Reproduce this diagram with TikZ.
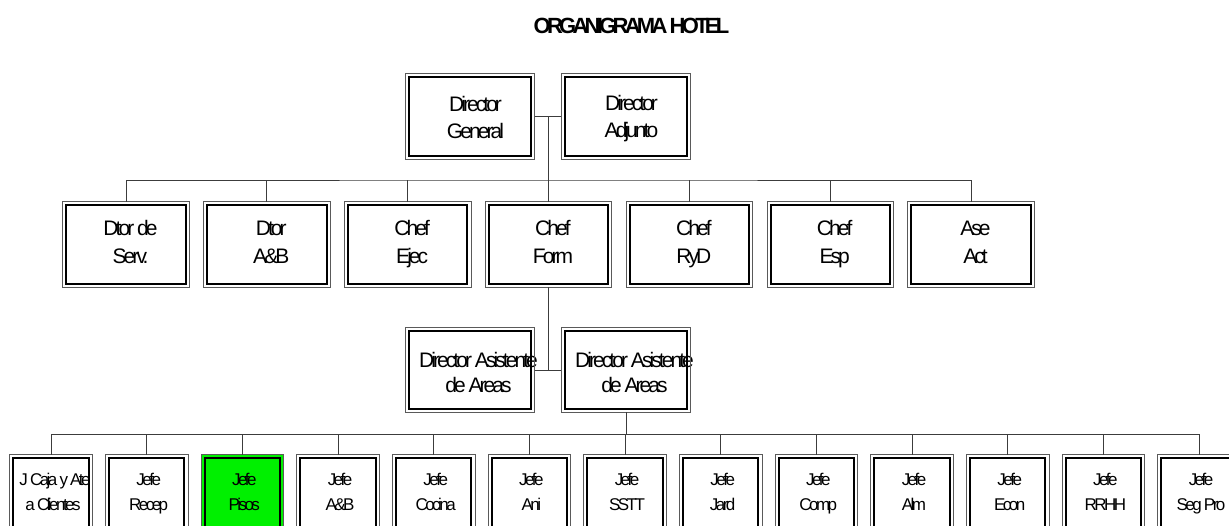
\documentclass[tikz,border=0pt]{standalone}
\usepackage{fontspec}
\setmainfont{Liberation Sans}
\newfontfamily\boxfont[LetterSpace=-14]{Liberation Sans}
\newfontfamily\smallboxfont[LetterSpace=-15]{Liberation Sans}
\newfontfamily\titlefont[LetterSpace=-17]{Liberation Sans}
\usetikzlibrary{calc}

\definecolor{linkgray}{RGB}{60,60,60}
\definecolor{framegray}{RGB}{90,90,90}
\definecolor{hilite}{RGB}{0,240,0}

% one line of a label, centred a little to the right of the box centre
\newcommand\offline[1]{\makebox[0pt][c]{\hspace*{\tlX}#1}}
% two-line label with fixed top and bottom struts
\newcommand\twoline[2]{\rule{0pt}{\tlH}\offline{#1}\\\offline{#2}\rule[-\tlD]{0pt}{0pt}}

% thin outer frame plus a heavy inner frame
\newcommand\dblframe[1]{%
  \draw[outerline] (#1.north west) rectangle (#1.south east);
  \draw[innerline] ([xshift=3.5pt,yshift=-3.5pt]#1.north west)
    rectangle ([xshift=-3.5pt,yshift=3.5pt]#1.south east);}

\tikzset{
  outerline/.style={draw=framegray, line width=0.8pt},
  innerline/.style={draw=black, line width=2pt},
  link/.style={draw=linkgray, line width=0.9pt},
  box/.style={inner sep=0pt, align=center},
  bigbox/.style={box, font=\boxfont\fontsize{21}{27}\selectfont,
    minimum height=85pt},
  rowA/.style={bigbox, minimum width=129pt,
    execute at begin node={\def\tlH{20pt}\def\tlD{3.5pt}\def\tlX{11pt}}},
  rowB/.style={bigbox, minimum width=126pt, font=\boxfont\fontsize{21}{28}\selectfont,
    execute at begin node={\def\tlH{15.5pt}\def\tlD{6.5pt}\def\tlX{9pt}}},
  rowC/.style={bigbox, minimum width=129pt, minimum height=84pt,
    font=\boxfont\fontsize{21}{25}\selectfont,
    execute at begin node={\def\tlH{22pt}\def\tlD{3pt}\def\tlX{17pt}}},
  rowD/.style={box, minimum width=82pt, minimum height=85pt,
    font=\smallboxfont\fontsize{17}{25}\selectfont,
    execute at begin node={\def\tlH{12pt}\def\tlD{12pt}\def\tlX{4pt}}},
}

\begin{document}
\begin{tikzpicture}[x=1pt,y=-1pt]
\useasboundingbox (0,0) rectangle (1229,525);
\clip (0,0) rectangle (1229,525);

\node[anchor=base, font=\titlefont\bfseries\fontsize{22}{26}\selectfont]
  (title) at (631.5,33) {ORGANIGRAMA HOTEL};

% top management
\node[rowA] (dg) at (470,116.5) {\twoline{Director}{General}};
\node[rowA] (da) at (626,116.5) {\twoline{Director}{Adjunto}};

% department heads
\node[rowB] (r2a) at (126.0,244.5) {\twoline{Dtor de}{Serv.}};
\node[rowB] (r2b) at (266.8,244.5) {\twoline{Dtor}{A\&B}};
\node[rowB] (r2c) at (407.7,244.5) {\twoline{Chef}{Ejec}};
\node[rowB] (r2d) at (548.5,244.5) {\twoline{Chef}{Form}};
\node[rowB] (r2e) at (689.3,244.5) {\twoline{Chef}{RyD}};
\node[rowB] (r2f) at (830.2,244.5) {\twoline{Chef}{Esp}};
\node[rowB] (r2g) at (971.0,244.5) {\twoline{Ase}{Act}};

% assistant directors
\node[rowC] (as1) at (470,370) {\twoline{Director Asistente}{de Areas}};
\node[rowC] (as2) at (626,370) {\twoline{Director Asistente}{de Areas}};

% section heads
\node[rowD] (r4a) at (51.0,497.5)   {\def\tlX{8pt}\twoline{J Caja y Ate}{a Clientes}};
\node[rowD] (r4b) at (146.7,497.5)  {\twoline{Jefe}{Recep}};
\node[rowD, fill=hilite] (r4c) at (242.3,497.5) {\twoline{Jefe}{Pisos}};
\node[rowD] (r4d) at (338.0,497.5)  {\twoline{Jefe}{A\&B}};
\node[rowD] (r4e) at (433.7,497.5)  {\twoline{Jefe}{Cocina}};
\node[rowD] (r4f) at (529.3,497.5)  {\twoline{Jefe}{Ani}};
\node[rowD] (r4g) at (625.0,497.5)  {\twoline{Jefe}{SSTT}};
\node[rowD] (r4h) at (720.7,497.5)  {\twoline{Jefe}{Jard}};
\node[rowD] (r4i) at (816.3,497.5)  {\twoline{Jefe}{Comp}};
\node[rowD] (r4j) at (912.0,497.5)  {\twoline{Jefe}{Alm}};
\node[rowD] (r4k) at (1007.7,497.5) {\twoline{Jefe}{Econ}};
\node[rowD] (r4l) at (1103.3,497.5) {\twoline{Jefe}{RRHH}};
\node[rowD] (r4m) at (1199.0,497.5) {\twoline{Jefe}{Seg Pro}};

% frames
\foreach \n in {dg,da,r2a,r2b,r2c,r2d,r2e,r2f,r2g,as1,as2,
                r4a,r4b,r4c,r4d,r4e,r4f,r4g,r4h,r4i,r4j,r4k,r4l,r4m}
  {\dblframe{\n}}

% connectors: top pair to department bus
\coordinate (j1) at ($(dg.east)!0.5!(da.west)$);
\path (j1) ++(0,63.5) coordinate (b2);
\draw[link] (dg.east) -- (da.west);
\draw[link] (j1) -- (b2);
\draw[link] (r2a.north) |- (b2) -| (r2g.north);
\foreach \n in {r2b,r2c,r2d,r2e,r2f}
  {\draw[link] (\n.north) -- (\n.north |- b2);}

% connectors: department to assistant directors
\draw[link] (as1.east) -- (as2.west);
\draw[link] (r2d.south) -- (r2d.south |- as1.east);

% connectors: assistant directors to section bus
\path (as2.south) ++(0,22) coordinate (b4);
\draw[link] (as2.south) -- (b4);
\draw[link] (r4a.north) |- (b4) -| (r4m.north);
\foreach \n in {r4b,r4c,r4d,r4e,r4f,r4g,r4h,r4i,r4j,r4k,r4l}
  {\draw[link] (\n.north) -- (\n.north |- b4);}
\end{tikzpicture}
\end{document}
